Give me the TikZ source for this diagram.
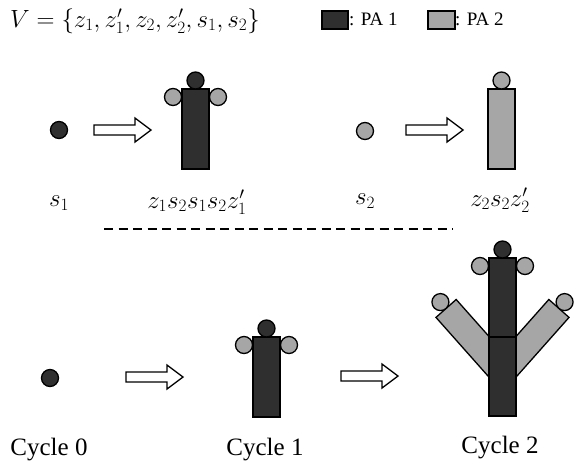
\documentclass[tikz,border=0pt]{standalone}
\usepackage{fontspec}
\newfontfamily\tnr{Liberation Serif}
\definecolor{pad}{HTML}{2F2F2F}
\definecolor{pal}{HTML}{A6A6A6}
\tikzset{
  lw/.style={line width=1.3pt},
  darkrect/.style={lw, draw=black, fill=pad},
  lightrect/.style={lw, draw=black, fill=pal},
  darkdot/.style={circle, lw, draw=black, fill=pad, minimum size=17pt, inner sep=0pt},
  lightdot/.style={circle, lw, draw=black, fill=pal, minimum size=17pt, inner sep=0pt},
  mathlbl/.style={font=\fontsize{27}{32}\selectfont},
  setlbl/.style={font=\fontsize{24.3}{29}\selectfont},
  cyclbl/.style={font=\tnr\fontsize{25}{30}\selectfont},
  leglbl/.style={font=\tnr\fontsize{19}{22}\selectfont, anchor=west, inner sep=0pt},
  fatarrow/.pic={\draw[lw, fill=white] (0,-5) -- (41,-5) -- (41,-12) -- (57,0) -- (41,12) -- (41,5) -- (0,5) -- cycle;}
}
\begin{document}
\begin{tikzpicture}[x=1pt,y=-1pt]
\useasboundingbox (0,0) rectangle (585,466);
% header
\node[setlbl, anchor=west, inner sep=0pt] (vset) at (10,21) {$V=\{z_1,z_1',z_2,z_2',s_1,s_2\}$};
\draw[darkrect] (322,11) rectangle (348,29);
\node[leglbl] (pa1) at (349,19) {: PA 1};
\draw[lightrect] (428,11) rectangle (455,29);
\node[leglbl] (pa2) at (455,19) {: PA 2};
% top left
\node[darkdot] (s1) at (59,130) {};
\pic (arrA) at (94,130) {fatarrow};
\draw[darkrect] (182,89) rectangle (209,169);
\node[darkdot] (t1) at (195.5,80.5) {};
\node[lightdot] (l1) at (173,97) {};
\node[lightdot] (r1) at (218,97) {};
\node[mathlbl] (ls1) at (59,203) {$s_1$};
\node[mathlbl] (lz1) at (197,202) {$z_1s_2s_1s_2z_1'$};
% top right
\node[lightdot] (s2) at (365,131) {};
\pic (arrB) at (406,130) {fatarrow};
\draw[lightrect] (488,89) rectangle (515,169);
\node[lightdot] (t2) at (501.5,80.5) {};
\node[mathlbl] (ls2) at (365,201) {$s_2$};
\node[mathlbl] (lz2) at (500,200) {$z_2s_2z_2'$};
% dashed separator
\coordinate (dA) at (104,229);
\coordinate (dB) at (453,229);
\draw[line width=1.5pt, dash pattern=on 9pt off 5.5pt] (dA) -- (dB);
% cycle 0
\node[darkdot] (c0) at (50,378) {};
\pic (arrC) at (126,377) {fatarrow};
% cycle 1
\draw[darkrect] (253,337) rectangle (280,417);
\node[darkdot] (c1t) at (266.5,328.5) {};
\node[lightdot] (c1l) at (244,345) {};
\node[lightdot] (c1r) at (289,345) {};
\pic (arrD) at (341,376) {fatarrow};
% cycle 2 branches
\begin{scope}[shift={(502.5,372)}, rotate=41.6]
  \draw[lightrect] (-13.5,0) rectangle (13.5,-85);
  \node[lightdot] (c2bl) at (0,-93.5) {};
\end{scope}
\begin{scope}[shift={(502.5,372)}, rotate=-41.6]
  \draw[lightrect] (-13.5,0) rectangle (13.5,-85);
  \node[lightdot] (c2br) at (0,-93.5) {};
\end{scope}
\draw[darkrect] (489,337) rectangle (516,416);
\draw[darkrect] (489,258) rectangle (516,337);
\node[darkdot] (c2t) at (502.5,249.5) {};
\node[lightdot] (c2l) at (480,266) {};
\node[lightdot] (c2r) at (525,266) {};
% labels
\node[cyclbl] (lc0) at (49,450) {Cycle 0};
\node[cyclbl] (lc1) at (265,450) {Cycle 1};
\node[cyclbl] (lc2) at (500,448) {Cycle 2};
\end{tikzpicture}
\end{document}
